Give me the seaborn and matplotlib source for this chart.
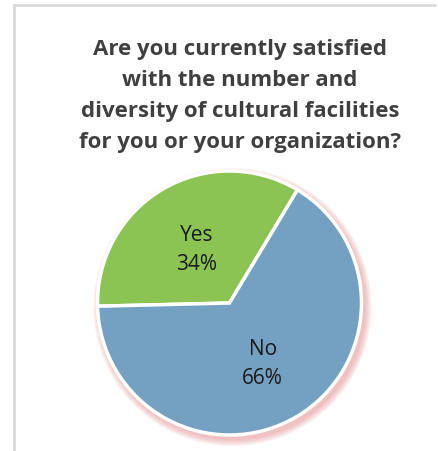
import matplotlib
matplotlib.use("Agg")
import matplotlib.pyplot as plt
from matplotlib.patches import Circle
import seaborn as sns

# Survey answers
answers = ["Yes", "No"]
shares = [34, 66]
colors = ["#8CC453", "#74A1C2"]

title = ("Are you currently satisfied\n"
         "with the number and\n"
         "diversity of cultural facilities\n"
         "for you or your organization?")

sns.set_theme(style="white")
plt.rcParams["font.family"] = ["Open Sans", "DejaVu Sans"]

W, H = 438, 451
fig = plt.figure(figsize=(W / 100, H / 100), dpi=100)
ax = fig.add_axes([0, 0, 1, 1])

cx, cy, r = 229.5, H - 303, 132

# soft reddish shadow, offset down-right
for i in range(10):
    ax.add_patch(Circle((cx + 3, cy - 4), r + 1 + i * 0.7,
                        color="#E58080", alpha=0.06, lw=0, zorder=0))

wedges, texts, autotexts = ax.pie(
    shares, labels=None, colors=colors, startangle=59,
    counterclock=True, center=(cx, cy), radius=r,
    autopct=lambda p: f"{p:.0f}%", pctdistance=0.5,
    wedgeprops=dict(edgecolor="white", linewidth=2.5),
    textprops=dict(fontsize=15, color="#1a1a1a"),
)
for t, name in zip(autotexts, answers):
    t.set_text(f"{name}\n{t.get_text()}")
    t.set_linespacing(1.55)
    t.set_ha("center")
    t.set_va("center")
    x, y = t.get_position()
    t.set_position((x, y - 4))

ax.set_xlim(0, W)
ax.set_ylim(0, H)
ax.set_aspect("auto")
ax.axis("off")

# chart frame (left and top edges)
ax.plot([14, 14], [-5, H - 5], color="#D9D9D9", lw=2, clip_on=False)
ax.plot([14, 435], [H - 5, H - 5], color="#D9D9D9", lw=2, clip_on=False)

fig.text(240 / W, 1 - 96 / H, title, ha="center", va="center",
         fontsize=16, fontweight="bold", color="#404040", linespacing=1.63)

fig.savefig("out.png", dpi=100, facecolor="white")
